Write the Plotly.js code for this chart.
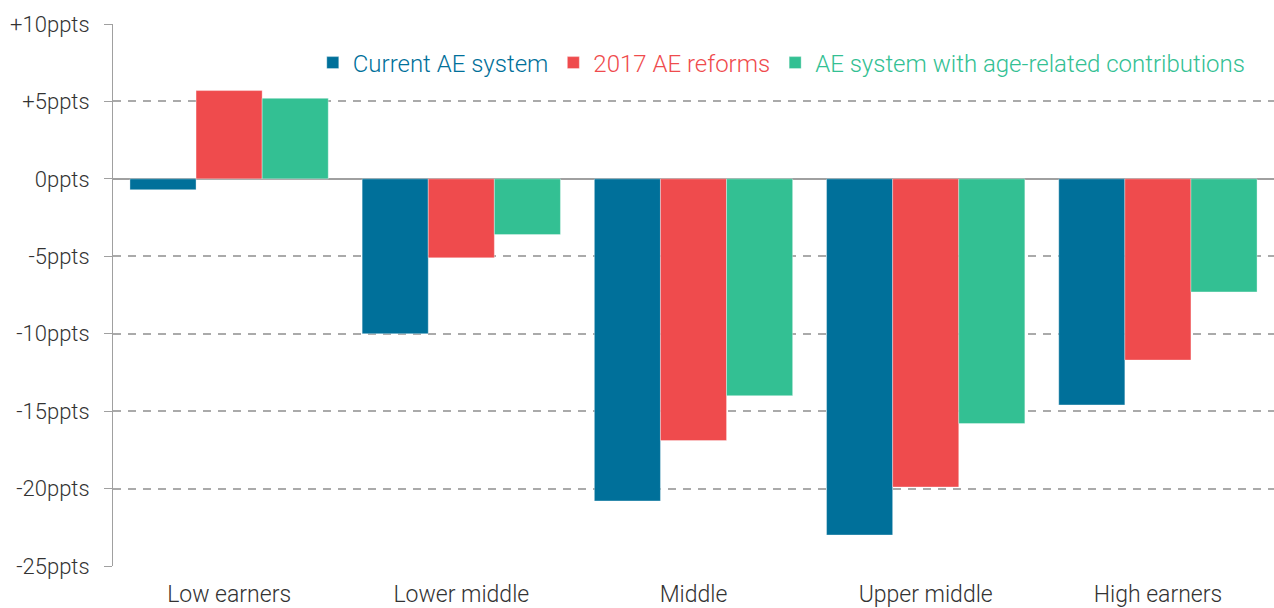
<!DOCTYPE html>
<html>
<head>
<meta charset="utf-8">
<script src="https://cdn.plot.ly/plotly-3.0.1.min.js"></script>
<style>html,body{margin:0;padding:0;background:#fff;}#chart{width:1274px;height:608px;}</style>
</head>
<body>
<div id="chart"></div>
<script>
const categories = ["Low earners", "Lower middle", "Middle", "Upper middle", "High earners"];
const seriesNames = ["Current AE system", "2017 AE reforms", "AE system with age-related contributions"];
const currentAE = [-0.7, -10.0, -20.8, -23.0, -14.6];
const reforms2017 = [5.7, -5.1, -16.9, -19.9, -11.7];
const ageRelated = [5.2, -3.6, -14.0, -15.8, -7.3];
const tickValues = [10, 5, 0, -5, -10, -15, -20, -25];
const tickLabels = ["+10ppts", "+5ppts", "0ppts", "-5ppts", "-10ppts", "-15ppts", "-20ppts", "-25ppts"];
const colors = ["#00709a", "#ef4b4d", "#33c093"];

const seriesValues = [currentAE, reforms2017, ageRelated];
const traces = seriesValues.map((vals, i) => ({
  type: "bar",
  x: categories,
  y: vals,
  name: '<span style="color:' + colors[i] + '">' + seriesNames[i] + '</span>',
  marker: { color: colors[i], line: { width: 1, color: "rgba(255,255,255,0.35)" } },
  hoverinfo: "skip"
}));

const layout = {
  width: 1274,
  height: 608,
  margin: { l: 113, r: 0, t: 24, b: 42 },
  paper_bgcolor: "#fff",
  plot_bgcolor: "#fff",
  font: { family: "Roboto, sans-serif", size: 22, color: "#333", weight: 300 },
  barmode: "group",
  bargap: 0.146,
  bargroupgap: 0,
  showlegend: true,
  legend: {
    orientation: "h",
    x: 0.980, xanchor: "right",
    y: 0.928, yanchor: "middle",
    itemwidth: 30,
    traceorder: "normal",
    font: { size: 24, weight: 300 },
    bgcolor: "rgba(0,0,0,0)"
  },
  xaxis: {
    type: "category",
    showgrid: false,
    showline: false,
    ticks: "",
    ticklabelstandoff: 12,
    tickfont: { size: 23, color: "#333", weight: 300 },
    fixedrange: true
  },
  yaxis: {
    range: [-25, 10],
    tickvals: tickValues,
    ticktext: tickLabels,
    showgrid: true,
    gridcolor: "#aaaaaa",
    gridwidth: 2,
    griddash: "8px,7px",
    zeroline: true,
    zerolinecolor: "#a0a0a0",
    zerolinewidth: 1.5,
    showline: true,
    linecolor: "#a0a0a0",
    linewidth: 1,
    ticks: "outside",
    ticklen: 8,
    tickcolor: "#a0a0a0",
    ticklabelstandoff: 10,
    tickfont: { size: 22, color: "#333", weight: 300 },
    fixedrange: true
  }
};

Plotly.newPlot("chart", traces, layout, { displayModeBar: false, staticPlot: true });
</script>
</body>
</html>
